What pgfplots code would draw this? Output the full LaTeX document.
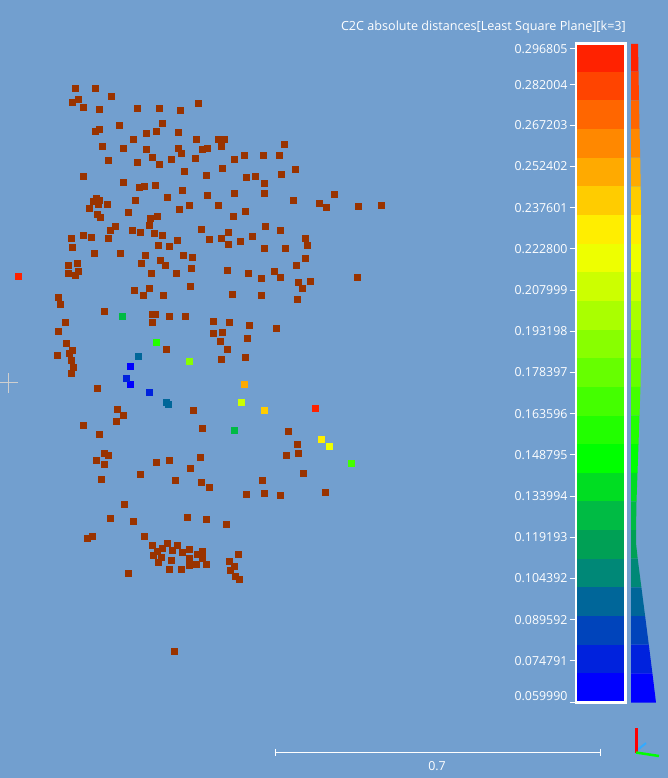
\documentclass[border=0pt]{standalone}
\usepackage{pgfplots}
\pgfplotsset{compat=1.18}
\usepackage{fontspec}
\setmainfont{Open Sans}
\definecolor{bgc}{RGB}{114,159,207}
\definecolor{brn}{HTML}{993300}
\definecolor{c1}{HTML}{0000FF}
\definecolor{c2}{HTML}{0022DD}
\definecolor{c3}{HTML}{0044BB}
\definecolor{c4}{HTML}{006699}
\definecolor{c5}{HTML}{008877}
\definecolor{c6}{HTML}{00A055}
\definecolor{c7}{HTML}{00BB44}
\definecolor{c8}{HTML}{00DD22}
\definecolor{c9}{HTML}{00FF00}
\definecolor{c10}{HTML}{22FF00}
\definecolor{c11}{HTML}{44FF00}
\definecolor{c12}{HTML}{66FF00}
\definecolor{c13}{HTML}{88FF00}
\definecolor{c14}{HTML}{AAFF00}
\definecolor{c15}{HTML}{CCFF00}
\definecolor{c16}{HTML}{EEFF00}
\definecolor{c17}{HTML}{FFEE00}
\definecolor{c18}{HTML}{FFCC00}
\definecolor{c19}{HTML}{FFAA00}
\definecolor{c20}{HTML}{FF8800}
\definecolor{c21}{HTML}{FF6600}
\definecolor{c22}{HTML}{FF4400}
\definecolor{c23}{HTML}{FF2200}
\definecolor{xhair}{HTML}{CFCFCF}
\definecolor{axblue}{HTML}{33AAFF}
\pgfplotsset{
  pts/.style={color=#1, only marks, mark=square*, mark size=3.3pt, mark options={solid, line width=0.4pt, draw=#1, fill=#1}},
  band/.style={fill=#1, draw=none, mark=none},
  wl/.style={draw=white, line width=1pt, mark=none},
}
\begin{document}
\begin{tikzpicture}
\begin{axis}[
  at={(0,0)}, anchor=south west,
  scale only axis, width=668pt, height=778pt,
  xmin=0, xmax=668, ymin=0, ymax=778, y dir=reverse,
  axis lines=none, clip=true,
]
% background
\addplot[band=bgc] coordinates {(0,0)(668,0)(668,778)(0,778)} -- cycle;
% crosshair
\addplot[draw=xhair, line width=1pt, mark=none] coordinates {(0,382.3)(17.7,382.3)};
\addplot[draw=xhair, line width=1pt, mark=none] coordinates {(8.3,373)(8.3,392.7)};
% brown points (distance above scale)
\addplot[pts=brn] coordinates {
(75.3,88.3)(95.3,88.3)(111.3,96.3)(78.3,99.3)(72.3,102.3)(83.3,107.3)(99.3,109.3)(137.3,108.3)(159.3,108.3)(180.3,110.3)(198.3,103.3)
(119.3,125.3)(162.3,123.3)(95.3,131.3)(99.3,129.3)(146.3,133.3)(156.3,131.3)(178.3,132.3)(133.3,139.3)(196.3,139.3)
(102.3,146.3)(123.3,148.3)(146.3,149.3)(178.3,148.3)(181.3,153.3)(202.3,149.3)(207.3,148.3)(152.3,157.3)(159.3,164.3)(171.3,159.3)(195.3,158.3)
(108.3,160.3)(137.3,162.3)(184.3,171.3)(206.3,175.3)(83.3,176.3)(123.3,182.3)(139.3,187.3)(144.3,186.3)(155.3,185.3)(182.3,190.3)(207.3,195.3)
(167.3,197.3)(96.3,198.3)(93.3,201.3)(99.3,200.3)(98.3,204.3)(107.3,204.3)(89.3,208.3)(135.3,200.3)(189.3,205.3)(179.3,209.3)
(97.3,214.3)(100.3,217.3)(128.3,212.3)(150.3,218.3)(157.3,216.3)(149.3,225.3)(115.3,226.3)(110.3,230.3)(132.3,230.3)(140.3,232.3)(154.3,233.3)(162.3,235.3)(201.3,229.3)
(71.3,238.3)(83.3,235.3)(91.3,237.3)(108.3,238.3)(177.3,240.3)(209.3,239.3)(72.3,247.3)(158.3,245.3)(169.3,246.3)(94.3,253.3)(120.3,253.3)(145.3,255.3)(183.3,255.3)(192.3,257.3)
(160.3,260.3)(165.3,265.3)(141.3,263.3)(68.3,265.3)(77.3,263.3)(78.3,271.3)(68.3,273.3)(191.3,268.3)(151.3,273.3)(176.3,273.3)
(218.3,139.3)(224.3,139.3)(221.3,146.3)(284.3,144.3)(234.3,159.3)(244.3,155.3)(263.3,155.3)(279.3,155.3)(222.3,168.3)(246.3,177.3)(255.3,176.3)(264.3,183.3)(281.3,174.3)(295.3,169.3)
(234.3,193.3)(264.3,193.3)(293.3,200.3)(319.3,203.3)(326.3,207.3)(334.3,194.3)(358.3,206.3)(381.3,205.3)(218.3,205.3)(245.3,211.3)(233.3,216.3)
(265.3,226.3)(280.3,230.3)(228.3,232.3)(221.3,238.3)(252.3,236.3)(240.3,241.3)(228.3,244.3)(305.3,238.3)(307.3,245.3)(264.3,248.3)(285.3,248.3)(305.3,258.3)(296.3,265.3)
(227.3,270.3)(248.3,273.3)(274.3,271.3)
(75.3,275.3)(58.3,297.3)(60.3,304.3)(134.3,290.3)(149.3,288.3)(143.3,295.3)(163.3,295.3)(190.3,286.3)(104.3,311.3)(152.3,314.3)(155.3,314.3)(169.3,316.3)(185.3,316.3)
(152.3,322.3)(213.3,321.3)(65.3,322.3)(58.3,331.3)(213.3,333.3)(66.3,343.3)(72.3,350.3)(69.3,353.3)(57.3,355.3)(71.3,360.3)(73.3,367.3)(71.3,373.3)(166.3,349.3)
(97.3,388.3)(117.3,409.3)(123.3,415.3)(116.3,421.3)(193.3,410.3)(83.3,425.3)(99.3,434.3)(202.3,428.3)(104.3,453.3)(108.3,455.3)(96.3,460.3)(104.3,464.3)(156.3,462.3)(169.3,460.3)(200.3,457.3)
(261.3,278.3)(280.3,277.3)(298.3,282.3)(302.3,288.3)(310.3,281.3)(357.3,277.3)(232.3,294.3)(261.3,295.3)(297.3,299.3)(229.3,322.3)(249.3,325.3)(276.3,328.3)
(222.3,332.3)(220.3,341.3)(247.3,338.3)(227.3,349.3)(221.3,359.3)(245.3,357.3)(288.3,431.3)(297.3,444.3)(298.3,453.3)(286.3,455.3)
(190.3,468.3)(140.3,474.3)(101.3,479.3)(175.3,480.3)(201.3,482.3)(209.3,487.3)(124.3,504.3)(110.3,518.3)(133.3,521.3)(187.3,517.3)(206.3,519.3)
(87.3,538.3)(92.3,536.3)(144.3,536.3)(152.3,545.3)(162.3,548.3)(167.3,543.3)(177.3,545.3)(157.3,551.3)(153.3,555.3)(161.3,557.3)(158.3,562.3)
(172.3,550.3)(182.3,552.3)(189.3,549.3)(202.3,551.3)(197.3,554.3)(189.3,558.3)(171.3,560.3)(189.3,565.3)(196.3,564.3)(202.3,558.3)(206.3,564.3)
(169.3,569.3)(181.3,569.3)(128.3,573.3)(174.3,651.3)
(303.3,473.3)(262.3,480.3)(246.3,494.3)(264.3,493.3)(280.3,495.3)(325.3,492.3)(226.3,524.3)(238.3,554.3)(229.3,561.3)(234.3,566.3)(230.3,570.3)(235.3,576.3)(239.3,579.3)
};
% coloured points (within scale)
\addplot[pts=c23] coordinates {(18.3,276.3)(315.3,408.3)};
\addplot[pts=c7] coordinates {(122.3,316.3)(234.3,430.3)};
\addplot[pts=c10] coordinates {(156.3,342.3)};
\addplot[pts=c4] coordinates {(138.3,356.3)(166,402)(168,404)};
\addplot[pts=c13] coordinates {(189,361.3)};
\addplot[pts=c1] coordinates {(130.3,366.3)(130,384.3)};
\addplot[pts=c2] coordinates {(126.3,378.3)(149.3,392.3)};
\addplot[pts=c19] coordinates {(244.3,384.3)};
\addplot[pts=c15] coordinates {(241.3,402.3)};
\addplot[pts=c18] coordinates {(264.3,410.3)};
\addplot[pts=c17] coordinates {(321.3,439.3)};
\addplot[pts=c16] coordinates {(329.3,446.3)};
\addplot[pts=c11] coordinates {(351.3,463)};
% colour scale bands
\addplot[band=c23] coordinates {(576,43)(626,43)(626,71.7)(576,71.7)} -- cycle;
\addplot[band=c22] coordinates {(576,71.7)(626,71.7)(626,100.3)(576,100.3)} -- cycle;
\addplot[band=c21] coordinates {(576,100.3)(626,100.3)(626,129)(576,129)} -- cycle;
\addplot[band=c20] coordinates {(576,129)(626,129)(626,157.6)(576,157.6)} -- cycle;
\addplot[band=c19] coordinates {(576,157.6)(626,157.6)(626,186.3)(576,186.3)} -- cycle;
\addplot[band=c18] coordinates {(576,186.3)(626,186.3)(626,214.9)(576,214.9)} -- cycle;
\addplot[band=c17] coordinates {(576,214.9)(626,214.9)(626,243.6)(576,243.6)} -- cycle;
\addplot[band=c16] coordinates {(576,243.6)(626,243.6)(626,272.2)(576,272.2)} -- cycle;
\addplot[band=c15] coordinates {(576,272.2)(626,272.2)(626,300.9)(576,300.9)} -- cycle;
\addplot[band=c14] coordinates {(576,300.9)(626,300.9)(626,329.5)(576,329.5)} -- cycle;
\addplot[band=c13] coordinates {(576,329.5)(626,329.5)(626,358.2)(576,358.2)} -- cycle;
\addplot[band=c12] coordinates {(576,358.2)(626,358.2)(626,386.8)(576,386.8)} -- cycle;
\addplot[band=c11] coordinates {(576,386.8)(626,386.8)(626,415.5)(576,415.5)} -- cycle;
\addplot[band=c10] coordinates {(576,415.5)(626,415.5)(626,444.1)(576,444.1)} -- cycle;
\addplot[band=c9] coordinates {(576,444.1)(626,444.1)(626,472.8)(576,472.8)} -- cycle;
\addplot[band=c8] coordinates {(576,472.8)(626,472.8)(626,501.4)(576,501.4)} -- cycle;
\addplot[band=c7] coordinates {(576,501.4)(626,501.4)(626,530.1)(576,530.1)} -- cycle;
\addplot[band=c6] coordinates {(576,530.1)(626,530.1)(626,558.7)(576,558.7)} -- cycle;
\addplot[band=c5] coordinates {(576,558.7)(626,558.7)(626,587.4)(576,587.4)} -- cycle;
\addplot[band=c4] coordinates {(576,587.4)(626,587.4)(626,616)(576,616)} -- cycle;
\addplot[band=c3] coordinates {(576,616)(626,616)(626,644.7)(576,644.7)} -- cycle;
\addplot[band=c2] coordinates {(576,644.7)(626,644.7)(626,673.3)(576,673.3)} -- cycle;
\addplot[band=c1] coordinates {(576,673.3)(626,673.3)(626,702)(576,702)} -- cycle;
\addplot[draw=white, line width=2.3pt, mark=none] coordinates {(576.3,43.6)(625.4,43.6)(625.4,702.6)(576.3,702.6)} -- cycle;
% histogram beside the scale
\addplot[band=c23] coordinates {(631,44)(638,44)(638.5,71.7)(631,71.7)} -- cycle;
\addplot[band=c22] coordinates {(631,71.7)(638.5,71.7)(639,100.3)(631,100.3)} -- cycle;
\addplot[band=c21] coordinates {(631,100.3)(639,100.3)(639.5,129)(631,129)} -- cycle;
\addplot[band=c20] coordinates {(631,129)(639.5,129)(640.2,157.6)(631,157.6)} -- cycle;
\addplot[band=c19] coordinates {(631,157.6)(640.2,157.6)(640.7,186.3)(631,186.3)} -- cycle;
\addplot[band=c18] coordinates {(631,186.3)(640.7,186.3)(641,214.9)(631,214.9)} -- cycle;
\addplot[band=c17] coordinates {(631,214.9)(641,214.9)(641,243.6)(631,243.6)} -- cycle;
\addplot[band=c16] coordinates {(631,243.6)(641,243.6)(641,272.2)(631,272.2)} -- cycle;
\addplot[band=c15] coordinates {(631,272.2)(641,272.2)(641,300.9)(631,300.9)} -- cycle;
\addplot[band=c14] coordinates {(631,300.9)(641,300.9)(641,329.5)(631,329.5)} -- cycle;
\addplot[band=c13] coordinates {(631,329.5)(641,329.5)(641,358.2)(631,358.2)} -- cycle;
\addplot[band=c12] coordinates {(631,358.2)(641,358.2)(640.5,386.8)(631,386.8)} -- cycle;
\addplot[band=c11] coordinates {(631,386.8)(640.5,386.8)(639.5,415.5)(631,415.5)} -- cycle;
\addplot[band=c10] coordinates {(631,415.5)(639.5,415.5)(638.5,444.1)(631,444.1)} -- cycle;
\addplot[band=c9] coordinates {(631,444.1)(638.5,444.1)(637.5,472.8)(631,472.8)} -- cycle;
\addplot[band=c8] coordinates {(631,472.8)(637.5,472.8)(636.5,501.4)(631,501.4)} -- cycle;
\addplot[band=c7] coordinates {(631,501.4)(636.5,501.4)(636,530.1)(631,530.1)} -- cycle;
\addplot[band=c6] coordinates {(631,530.1)(636,530.1)(636,543)(637.7,558.7)(631,558.7)} -- cycle;
\addplot[band=c5] coordinates {(631,558.7)(637.7,558.7)(641.4,587.4)(631,587.4)} -- cycle;
\addplot[band=c4] coordinates {(631,587.4)(641.4,587.4)(645.1,616)(631,616)} -- cycle;
\addplot[band=c3] coordinates {(631,616)(645.1,616)(648.8,644.7)(631,644.7)} -- cycle;
\addplot[band=c2] coordinates {(631,644.7)(648.8,644.7)(652.4,673.3)(631,673.3)} -- cycle;
\addplot[band=c1] coordinates {(631,673.3)(652.4,673.3)(656,702.7)(631,702.7)} -- cycle;
% scale ticks
\addplot[wl] coordinates {(569.5,702)(576,702)};
\addplot[wl] coordinates {(569.5,660.8)(576,660.8)};
\addplot[wl] coordinates {(569.5,619.6)(576,619.6)};
\addplot[wl] coordinates {(569.5,578.4)(576,578.4)};
\addplot[wl] coordinates {(569.5,537.2)(576,537.2)};
\addplot[wl] coordinates {(569.5,496)(576,496)};
\addplot[wl] coordinates {(569.5,454.9)(576,454.9)};
\addplot[wl] coordinates {(569.5,413.7)(576,413.7)};
\addplot[wl] coordinates {(569.5,372.5)(576,372.5)};
\addplot[wl] coordinates {(569.5,331.3)(576,331.3)};
\addplot[wl] coordinates {(569.5,290.1)(576,290.1)};
\addplot[wl] coordinates {(569.5,248.9)(576,248.9)};
\addplot[wl] coordinates {(569.5,207.7)(576,207.7)};
\addplot[wl] coordinates {(569.5,166.5)(576,166.5)};
\addplot[wl] coordinates {(569.5,125.3)(576,125.3)};
\addplot[wl] coordinates {(569.5,85)(576,85)};
\addplot[wl] coordinates {(569.5,48.5)(576,48.5)};
% scale bar
\addplot[wl] coordinates {(274.5,752)(600.5,752)};
\addplot[wl] coordinates {(275,748.5)(275,755.5)};
\addplot[wl] coordinates {(600,748.5)(600,755.5)};
% trihedron
\addplot[draw=axblue, line width=2pt, mark=none] coordinates {(637.5,750)(646,743)};
\addplot[draw=red, line width=2.5pt, mark=none] coordinates {(636.3,728)(636.3,752.5)};
\addplot[draw=green, line width=2.5pt, mark=none] coordinates {(636,752.5)(659,756)};
% texts
\begin{scope}[every node/.style={inner sep=0pt, text=white, font=\fontsize{12.4}{14}\selectfont}]
\node[anchor=base east, font=\fontsize{12.6}{14}\selectfont] at (axis cs:626,31) {C2C absolute distances[Least Square Plane][k=3]};
\node[anchor=east] at (axis cs:567.7,48.7) {0.296805};
\node[anchor=east] at (axis cs:567.7,85) {0.282004};
\node[anchor=east] at (axis cs:567.7,125.3) {0.267203};
\node[anchor=east] at (axis cs:567.7,166.5) {0.252402};
\node[anchor=east] at (axis cs:567.7,207.7) {0.237601};
\node[anchor=east] at (axis cs:567.7,248.9) {0.222800};
\node[anchor=east] at (axis cs:567.7,290.1) {0.207999};
\node[anchor=east] at (axis cs:567.7,331.3) {0.193198};
\node[anchor=east] at (axis cs:567.7,372.5) {0.178397};
\node[anchor=east] at (axis cs:567.7,413.7) {0.163596};
\node[anchor=east] at (axis cs:567.7,454.9) {0.148795};
\node[anchor=east] at (axis cs:567.7,496) {0.133994};
\node[anchor=east] at (axis cs:567.7,537.2) {0.119193};
\node[anchor=east] at (axis cs:567.7,578.4) {0.104392};
\node[anchor=east] at (axis cs:567.7,619.6) {0.089592};
\node[anchor=east] at (axis cs:567.7,660.8) {0.074791};
\node[anchor=east] at (axis cs:567.7,696) {0.059990};
\node[anchor=center] at (axis cs:437,766.5) {0.7};
\end{scope}
\end{axis}
\pgfresetboundingbox
\path (0,0) rectangle (668pt,778pt);
\end{tikzpicture}
\end{document}
